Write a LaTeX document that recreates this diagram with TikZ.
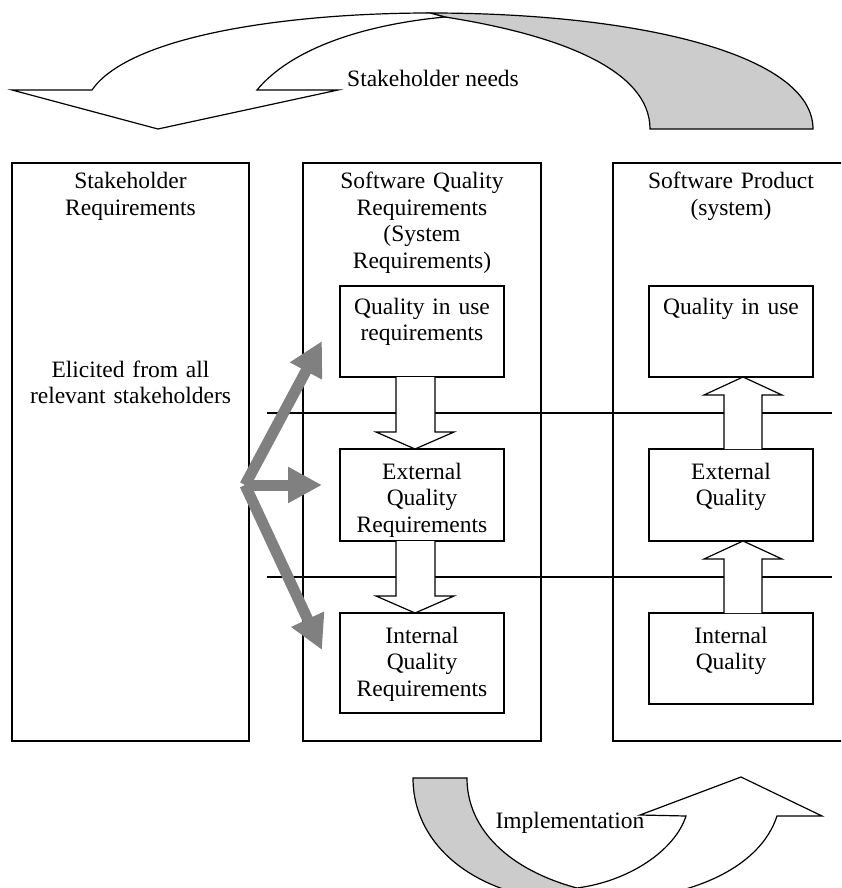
\documentclass[tikz,border=0pt]{standalone}
\usepackage{fontspec}
\setmainfont{Liberation Serif}
\usetikzlibrary{arrows.meta}
\definecolor{arrowgray}{RGB}{128,128,128}
\definecolor{backgray}{RGB}{204,204,204}
\begin{document}
\begin{tikzpicture}[x=1pt,y=-1pt,
  frame/.style={draw, line width=1.2pt, fill=white, inner sep=0pt},
  blockarrow/.style={draw, line width=1.2pt, fill=white, line join=miter},
  thin/.style={line width=1.2pt},
  garrow/.style={draw=arrowgray, line width=11pt, -{Triangle[length=34pt,width=34pt]}},
  bigtxt/.style={anchor=base, align=center, inner sep=0pt, text width=230pt,
     font=\fontsize{23.5pt}{26.5pt}\selectfont},
  smalltxt/.style={anchor=base, align=center, inner sep=0pt, text width=160pt,
     font=\fontsize{23.5pt}{26.5pt}\selectfont},
  lbl/.style={anchor=base, inner sep=0pt, font=\fontsize{23.5pt}{26.5pt}\selectfont}]
\useasboundingbox (0,0) rectangle (841,888);
\clip (0,0) rectangle (841,888);

% ---------- top curved arrow: Stakeholder needs ----------
\draw[thin, fill=backgray] (430,13) .. controls (640,13) and (813,55) .. (813,129)
   -- (650,129) .. controls (650,70) and (560,35) .. (445,17) -- cycle;
\draw[thin, fill=white, line join=miter] (92,90) .. controls (130,35) and (290,13) .. (430,13)
   -- (445,17) .. controls (360,25) and (290,50) .. (257,90)
   -- (338,90) -- (158,129) -- (12,90) -- cycle;
\node[lbl] (needs) at (433,87) {Stakeholder needs};

% ---------- big columns ----------
\node[frame, minimum width=237pt, minimum height=578pt] (sh) at (130.5,452) {};
\node[frame, minimum width=238pt, minimum height=578pt] (sq) at (422,452) {};
\node[frame, minimum width=257pt, minimum height=578pt] (sp) at (741.5,452) {};

% ---------- level separators ----------
\coordinate (l1a) at (267,413); \coordinate (l1b) at (832,413);
\coordinate (l2a) at (267,577); \coordinate (l2b) at (832,577);
\draw[thin] (l1a) -- (l1b);
\draw[thin] (l2a) -- (l2b);

% ---------- inner boxes ----------
\node[frame, minimum width=164pt, minimum height=91pt] (qreq) at (422,331.5) {};
\node[frame, minimum width=164pt, minimum height=92pt] (ereq) at (422,495) {};
\node[frame, minimum width=164pt, minimum height=100pt] (ireq) at (422,663) {};
\node[frame, minimum width=164pt, minimum height=91pt] (quse) at (731,331.5) {};
\node[frame, minimum width=164pt, minimum height=92pt] (eq) at (731,495) {};
\node[frame, minimum width=164pt, minimum height=91pt] (iq) at (731,658.5) {};

% ---------- block arrows ----------
\draw[blockarrow] (396,377) -- (396,432) -- (376,432) -- (415,449) -- (454,432) -- (435,432) -- (435,377);
\draw[blockarrow] (396,541) -- (396,596) -- (376,596) -- (415,613) -- (454,596) -- (435,596) -- (435,541);
\draw[blockarrow] (724,449) -- (724,395) -- (704,395) -- (743,377) -- (782,395) -- (762,395) -- (762,449);
\draw[blockarrow] (724,613) -- (724,559) -- (704,559) -- (743,541) -- (782,559) -- (762,559) -- (762,613);

% ---------- grey arrows ----------
\coordinate (src) at (245,485);
\coordinate (g1) at (322,341);
\coordinate (g2) at (322,485);
\coordinate (g3) at (322,650);
\draw[garrow] (src) -- (g1);
\draw[garrow] (src) -- (g2);
\draw[garrow] (src) -- (g3);

% ---------- texts ----------
\node[bigtxt] (shT) at (130.5,188.5) {Stakeholder\\Requirements};
\node[bigtxt] (shB) at (130.5,377) {Elicited from all\\relevant stakeholders};
\node[bigtxt] (sqT) at (422,188.5) {Software Quality\\Requirements\\(System\\Requirements)};
\node[bigtxt] (spT) at (731,188.5) {Software Product\\(system)};
\node[smalltxt] (qreqT) at (422,314) {Quality in use\\requirements};
\node[smalltxt] (ereqT) at (422,479) {External\\Quality\\Requirements};
\node[smalltxt] (ireqT) at (422,643) {Internal\\Quality\\Requirements};
\node[smalltxt] (quseT) at (731,314) {Quality in use};
\node[smalltxt] (eqT) at (731,479) {External\\Quality};
\node[smalltxt] (iqT) at (731,643) {Internal\\Quality};

% ---------- bottom curved arrow: Implementation ----------
\fill[backgray] (413,778) -- (467,778) .. controls (467,830) and (510,870) .. (577,888)
   -- (585,902) .. controls (480,902) and (413,848) .. (413,778) -- cycle;
\fill[white] (577,888) .. controls (630,881) and (675,850) .. (686,816)
   -- (640,815) -- (741,777) -- (822,816) -- (777,816)
   .. controls (760,868) and (690,902) .. (585,902) -- cycle;
\draw[thin, line join=miter] (413,778) -- (467,778) .. controls (467,830) and (510,870) .. (577,888)
   .. controls (630,881) and (675,850) .. (686,816)
   -- (640,815) -- (741,777) -- (822,816) -- (777,816)
   .. controls (760,868) and (690,902) .. (585,902)
   .. controls (480,902) and (413,848) .. (413,778) -- cycle;
\node[lbl] (impl) at (570,828) {Implementation};
\end{tikzpicture}
\end{document}
